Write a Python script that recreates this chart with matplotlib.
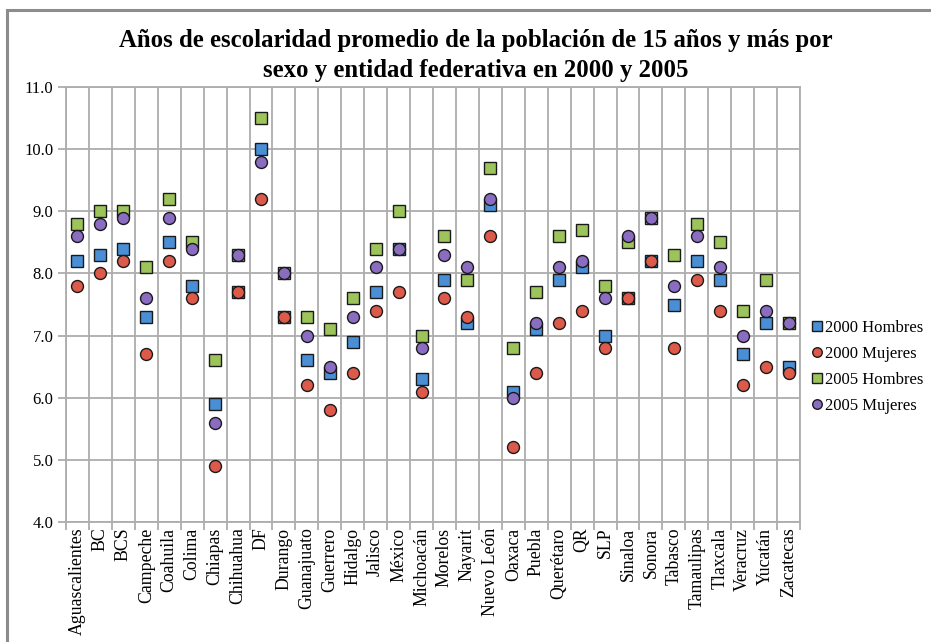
import matplotlib
matplotlib.use("Agg")
import matplotlib.pyplot as plt
from matplotlib.patches import Rectangle
from matplotlib.ticker import FixedLocator

plt.rcParams['font.family'] = ['Liberation Serif', 'DejaVu Serif']

estados = ["Aguascalientes", "BC", "BCS", "Campeche", "Coahuila", "Colima",
           "Chiapas", "Chihuahua", "DF", "Durango", "Guanajuato", "Guerrero",
           "Hidalgo", "Jalisco", "México", "Michoacán", "Morelos", "Nayarit",
           "Nuevo León", "Oaxaca", "Puebla", "Querétaro", "QR", "SLP",
           "Sinaloa", "Sonora", "Tabasco", "Tamaulipas", "Tlaxcala",
           "Veracruz", "Yucatán", "Zacatecas"]

hombres_2000 = [8.2, 8.3, 8.4, 7.3, 8.5, 7.8, 5.9, 7.7, 10.0, 7.3, 6.6, 6.4,
                6.9, 7.7, 8.4, 6.3, 7.9, 7.2, 9.1, 6.1, 7.1, 7.9, 8.1, 7.0,
                7.6, 8.2, 7.5, 8.2, 7.9, 6.7, 7.2, 6.5]
mujeres_2000 = [7.8, 8.0, 8.2, 6.7, 8.2, 7.6, 4.9, 7.7, 9.2, 7.3, 6.2, 5.8,
                6.4, 7.4, 7.7, 6.1, 7.6, 7.3, 8.6, 5.2, 6.4, 7.2, 7.4, 6.8,
                7.6, 8.2, 6.8, 7.9, 7.4, 6.2, 6.5, 6.4]
hombres_2005 = [8.8, 9.0, 9.0, 8.1, 9.2, 8.5, 6.6, 8.3, 10.5, 8.0, 7.3, 7.1,
                7.6, 8.4, 9.0, 7.0, 8.6, 7.9, 9.7, 6.8, 7.7, 8.6, 8.7, 7.8,
                8.5, 8.9, 8.3, 8.8, 8.5, 7.4, 7.9, 7.2]
mujeres_2005 = [8.6, 8.8, 8.9, 7.6, 8.9, 8.4, 5.6, 8.3, 9.8, 8.0, 7.0, 6.5,
                7.3, 8.1, 8.4, 6.8, 8.3, 8.1, 9.2, 6.0, 7.2, 8.1, 8.2, 7.6,
                8.6, 8.9, 7.8, 8.6, 8.1, 7.0, 7.4, 7.2]

series = [
    ("2000 Hombres", hombres_2000, "s", "#4a8fd6"),
    ("2000 Mujeres", mujeres_2000, "o", "#dd5a4a"),
    ("2005 Hombres", hombres_2005, "s", "#9dc45a"),
    ("2005 Mujeres", mujeres_2005, "o", "#8a6cc0"),
]

fig = plt.figure(figsize=(9.31, 6.42), dpi=100)

# outer chart-area frame
fig.patches.append(Rectangle((7 / 931, -0.1), 1.2, 1 - 10 / 642 + 0.1,
                             transform=fig.transFigure, fill=False,
                             edgecolor="#8c8c8c", linewidth=2.2, zorder=0))

ax = fig.add_axes([66 / 931, 1 - 522 / 642, (800 - 66) / 931, (522 - 87) / 642])

x = list(range(len(estados)))
for name, vals, mk, col in series:
    ax.plot(x, vals, linestyle="none", marker=mk, markersize=8.3 if mk == "s" else 8.6,
            markerfacecolor=col, markeredgecolor="#1a1a1a", markeredgewidth=1.0,
            label=name, zorder=3)

ax.set_xlim(-0.5, len(estados) - 0.5)
ax.set_ylim(4.0, 11.0)
ax.set_yticks([4, 5, 6, 7, 8, 9, 10, 11])
ax.set_yticklabels([f"{v:.1f}" for v in [4, 5, 6, 7, 8, 9, 10, 11]], fontsize=12)
ax.set_xticks(x)
ax.set_xticklabels(estados, rotation=90, fontsize=12.8)
ax.xaxis.set_minor_locator(FixedLocator([i - 0.5 for i in range(len(estados) + 1)]))

grid_col = "#adadad"
ax.grid(True, axis="y", which="major", color=grid_col, linewidth=1.3)
ax.grid(True, axis="x", which="minor", color=grid_col, linewidth=1.3)
ax.tick_params(axis="x", which="major", length=0, pad=4)
ax.tick_params(axis="x", which="minor", length=6, color=grid_col, width=1.3)
ax.tick_params(axis="y", which="major", length=6, color=grid_col, width=1.3, pad=3)
for s in ax.spines.values():
    s.set_color(grid_col)
    s.set_linewidth(1.3)
ax.set_axisbelow(True)

fig.text(476 / 931, 1 - 40 / 642, "Años de escolaridad promedio de la población de 15 años y más por",
         ha="center", va="center", fontsize=17.8, fontweight="bold")
fig.text(476 / 931, 1 - 70 / 642, "sexo y entidad federativa en 2000 y 2005",
         ha="center", va="center", fontsize=17.8, fontweight="bold")

leg = ax.legend(loc="center left", bbox_to_anchor=(813 / 931, 1 - 367 / 642),
                bbox_transform=fig.transFigure, frameon=False, fontsize=12,
                handlelength=0.5, handletextpad=0.2, labelspacing=0.6,
                markerscale=0.8, borderaxespad=0, borderpad=0)

fig.savefig("out.png", dpi=100)
